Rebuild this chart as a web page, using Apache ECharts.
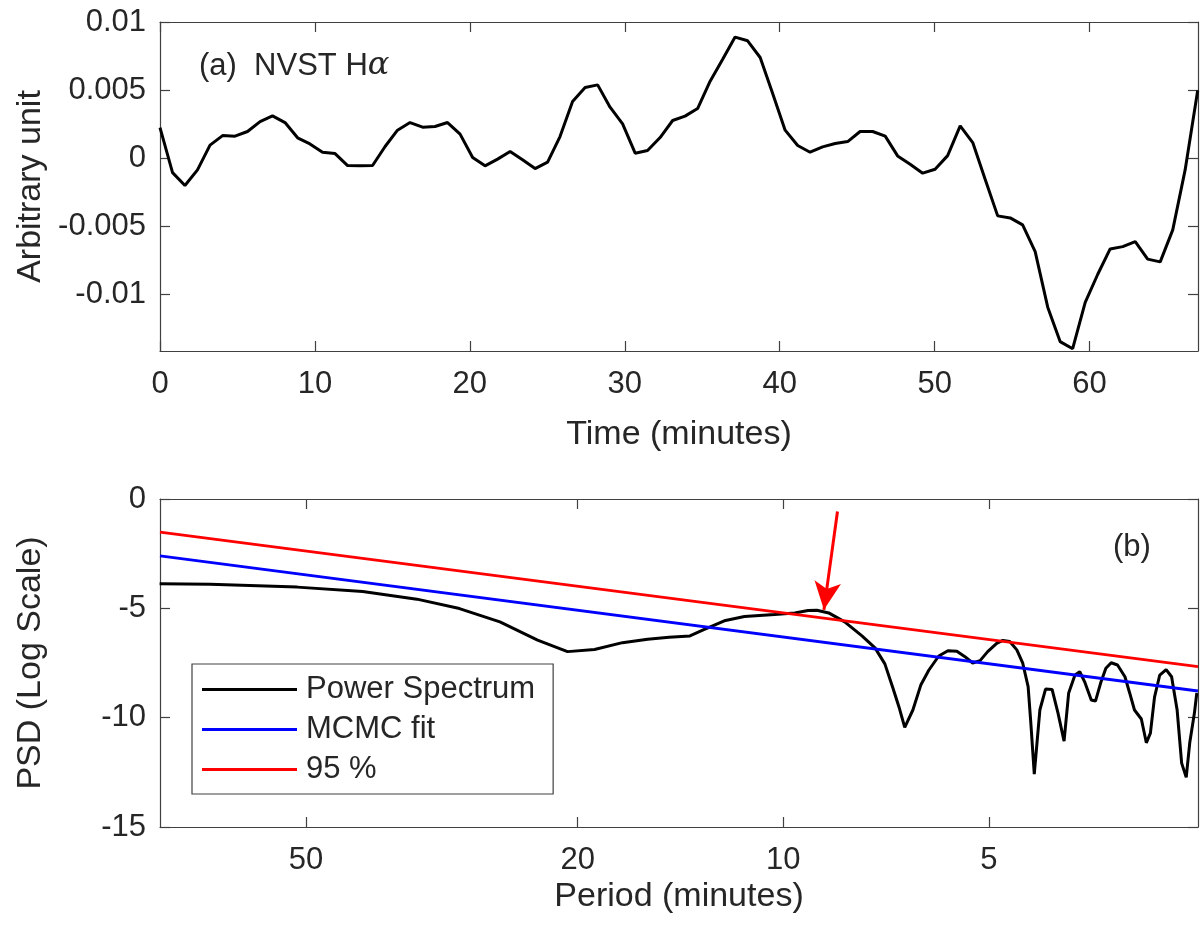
<!DOCTYPE html>
<html>
<head>
<meta charset="utf-8">
<script src="https://cdn.jsdelivr.net/npm/echarts@6/dist/echarts.min.js"></script>
<style>
html,body{margin:0;padding:0;background:#fff;}
#main{width:1200px;height:933px;}
</style>
</head>
<body>
<div id="main"></div>
<script>
// (a) NVST Halpha light curve
var timeMin = [0, 0.81, 1.61, 2.42, 3.23, 4.04, 4.84, 5.65, 6.46, 7.26,
  8.07, 8.88, 9.68, 10.49, 11.30, 12.11, 12.91, 13.72, 14.53, 15.33,
  16.14, 16.95, 17.75, 18.56, 19.37, 20.18, 20.98, 21.79, 22.60, 23.40,
  24.21, 25.02, 25.82, 26.63, 27.44, 28.25, 29.05, 29.86, 30.67, 31.47,
  32.28, 33.09, 33.89, 34.70, 35.51, 36.32, 37.12, 37.93, 38.74, 39.54,
  40.35, 41.16, 41.96, 42.77, 43.58, 44.39, 45.19, 46.00, 46.81, 47.61,
  48.42, 49.23, 50.03, 50.84, 51.65, 52.46, 53.26, 54.07, 54.88, 55.68,
  56.49, 57.30, 58.10, 58.91, 59.72, 60.53, 61.33, 62.14, 62.95, 63.75,
  64.56, 65.37, 66.17, 66.98];
var intensity = [0.00224, -0.00107, -0.00202, -0.00087, 0.00095, 0.00165, 0.00161, 0.00195, 0.00268, 0.00310,
  0.00261, 0.00149, 0.00104, 0.00043, 0.00033, -0.00055, -0.00057, -0.00055, 0.00085, 0.00205,
  0.00261, 0.00227, 0.00232, 0.00261, 0.00176, 0.00004, -0.00057, -0.00008, 0.00048, -0.00013,
  -0.00077, -0.00030, 0.00158, 0.00415, 0.00518, 0.00538, 0.00374, 0.00251, 0.00036, 0.00055,
  0.00151, 0.00276, 0.00308, 0.00364, 0.00565, 0.00727, 0.00889, 0.00862, 0.00739, 0.00477,
  0.00205, 0.00092, 0.00043, 0.00082, 0.00107, 0.00121, 0.00195, 0.00195, 0.00161, 0.00016,
  -0.00045, -0.00111, -0.00082, 0.00018, 0.00237, 0.00114, -0.00155, -0.00425, -0.00440, -0.00491,
  -0.00688, -0.01096, -0.01349, -0.01401, -0.01060, -0.00854, -0.00668, -0.00651, -0.00614, -0.00743,
  -0.00763, -0.00528, -0.00087, 0.00496];
var timeTicks = [0, 10, 20, 30, 40, 50, 60];
var unitTicks = [-0.01, -0.005, 0, 0.005, 0.01];

// (b) power spectrum vs period
var periodMin = [81.9, 69.1, 51.5, 41.3, 34.4, 29.8, 26.0, 22.9, 20.7, 18.9,
  17.2, 15.8, 14.7, 13.7, 13.1, 12.2, 11.4, 10.3, 9.62, 9.20,
  8.93, 8.58, 8.13, 7.67, 7.34, 7.10, 6.91, 6.77, 6.64, 6.46,
  6.29, 6.12, 5.92, 5.74, 5.57, 5.42, 5.28, 5.15, 5.02, 4.87,
  4.77, 4.66, 4.55, 4.46, 4.38, 4.34, 4.29, 4.21, 4.13, 4.04,
  3.96, 3.88, 3.82, 3.74, 3.68, 3.62, 3.54, 3.49, 3.43, 3.37,
  3.31, 3.24, 3.16, 3.11, 3.06, 2.99, 2.94, 2.90, 2.86, 2.81,
  2.75, 2.70, 2.65, 2.61, 2.57, 2.54, 2.50, 2.48];
var psdLog = [-3.88, -3.90, -4.03, -4.23, -4.58, -5.01, -5.62, -6.45, -6.98, -6.88,
  -6.57, -6.41, -6.32, -6.26, -5.99, -5.57, -5.37, -5.28, -5.21, -5.10,
  -5.09, -5.21, -5.62, -6.26, -6.81, -7.54, -8.64, -9.51, -10.44, -9.65,
  -8.51, -7.82, -7.18, -6.94, -6.96, -7.21, -7.50, -7.39, -6.98, -6.60,
  -6.47, -6.52, -6.90, -7.51, -8.58, -10.25, -12.58, -9.65, -8.69, -8.71,
  -9.79, -11.07, -8.87, -8.05, -7.90, -8.36, -9.19, -9.24, -8.42, -7.74,
  -7.49, -7.59, -8.13, -8.87, -9.65, -10.06, -11.15, -10.71, -9.06, -8.05,
  -7.80, -8.13, -9.65, -12.08, -12.73, -11.16, -9.79, -8.87];
var fitPeriod = [81.8, 2.47];
var mcmcFit = [-2.60, -8.78];
var conf95 = [-1.51, -7.67];
var periodTicks = [50, 20, 10, 5];
var psdTicks = [0, -5, -10, -15];
var arrowFrom = [8.33, -0.57];
var arrowTo = [8.72, -5.07];

var FONT = "'Liberation Sans', Arial, Helvetica, sans-serif";
var TXT = '#262626';
var AX = '#404040';

function zip(xs, ys) {
  return xs.map(function (x, i) { return [x, ys[i]]; });
}

function axisCommon(ticks, showLabel, margin) {
  return {
    axisLine: { show: true, onZero: false, lineStyle: { color: AX, width: 1.2 } },
    axisTick: { show: true, inside: true, length: 10, customValues: ticks, lineStyle: { color: AX, width: 1.2 } },
    axisLabel: { show: showLabel, customValues: ticks, color: TXT, fontSize: 31, fontFamily: FONT, margin: margin },
    splitLine: { show: false },
    minorTick: { show: false }
  };
}

function xAx(grid, type, min, max, ticks, pos, showLabel, extra) {
  return Object.assign({ type: type, gridIndex: grid, position: pos, min: min, max: max }, axisCommon(ticks, showLabel, 18), extra || {});
}
function yAx(grid, min, max, ticks, pos, showLabel, extra) {
  return Object.assign({ type: 'value', gridIndex: grid, position: pos, min: min, max: max }, axisCommon(ticks, showLabel, 14), extra || {});
}

var nameStyle = { color: TXT, fontSize: 34, fontFamily: FONT };

var chart = echarts.init(document.getElementById('main'));
var option = {
  backgroundColor: '#fff',
  animation: false,
  title: [{
    text: '{a|(a)  NVST H}{b|α}',
    left: 194, top: 45,
    textStyle: {
      rich: {
        a: { fontSize: 31, fontFamily: FONT, color: TXT, fontWeight: 'normal' },
        b: { fontSize: 32, fontFamily: "'DejaVu Serif', serif", fontStyle: 'italic', fontWeight: 'normal', color: TXT }
      }
    }
  }, {
    text: '(b)',
    left: 1108, top: 527,
    textStyle: { fontSize: 31, fontFamily: FONT, color: TXT, fontWeight: 'normal' }
  }],
  grid: [
    { left: 160, top: 22, width: 1038, height: 329, outerBoundsMode: 'none' },
    { left: 160, top: 499, width: 1038, height: 328, outerBoundsMode: 'none' }
  ],
  legend: {
    data: ['Power Spectrum', 'MCMC fit', '95 %'],
    orient: 'vertical',
    left: 192, top: 664,
    padding: [10, 18, 9, 10],
    itemGap: 9,
    icon: 'rect',
    itemWidth: 95,
    itemHeight: 3,
    borderColor: AX,
    borderWidth: 1.2,
    backgroundColor: '#fff',
    textStyle: { color: TXT, fontSize: 31, fontFamily: FONT, padding: [0, 0, 0, 4] }
  },
  xAxis: [
    xAx(0, 'value', 0, 67, timeTicks, 'bottom', true, { name: 'Time (minutes)', nameLocation: 'middle', nameGap: 67, nameTextStyle: nameStyle }),
    xAx(0, 'value', 0, 67, timeTicks, 'top', false),
    xAx(1, 'log', fitPeriod[1], fitPeriod[0], periodTicks, 'bottom', true, { inverse: true, name: 'Period (minutes)', nameLocation: 'middle', nameGap: 53, nameTextStyle: nameStyle }),
    xAx(1, 'log', fitPeriod[1], fitPeriod[0], periodTicks, 'top', false, { inverse: true })
  ],
  yAxis: [
    yAx(0, -0.01418, 0.01, unitTicks, 'left', true, { name: 'Arbitrary unit', nameLocation: 'middle', nameGap: 112, nameTextStyle: nameStyle }),
    yAx(0, -0.01418, 0.01, unitTicks, 'right', false),
    yAx(1, -15, 0, psdTicks, 'left', true, { name: 'PSD (Log Scale)', nameLocation: 'middle', nameGap: 112, nameTextStyle: nameStyle }),
    yAx(1, -15, 0, psdTicks, 'right', false)
  ],
  series: [{
    name: 'light curve',
    type: 'line',
    xAxisIndex: 0, yAxisIndex: 0,
    data: zip(timeMin, intensity),
    symbol: 'none',
    lineStyle: { color: '#000', width: 3 }
  }, {
    name: 'Power Spectrum',
    type: 'line',
    xAxisIndex: 2, yAxisIndex: 2,
    data: zip(periodMin, psdLog),
    symbol: 'none',
    color: '#000',
    lineStyle: { color: '#000', width: 3 }
  }, {
    name: 'MCMC fit',
    type: 'line',
    xAxisIndex: 2, yAxisIndex: 2,
    data: zip(fitPeriod, mcmcFit),
    symbol: 'none',
    color: '#0000ff',
    lineStyle: { color: '#0000ff', width: 2.8 }
  }, {
    name: '95 %',
    type: 'line',
    xAxisIndex: 2, yAxisIndex: 2,
    data: zip(fitPeriod, conf95),
    symbol: 'none',
    color: '#ff0000',
    lineStyle: { color: '#ff0000', width: 2.8 },
    markLine: {
      silent: true,
      symbol: ['none', 'arrow'],
      symbolSize: [20, 28],
      label: { show: false },
      lineStyle: { color: '#ff0000', width: 3, type: 'solid' },
      data: [[{ coord: arrowFrom }, { coord: arrowTo }]]
    }
  }]
};
chart.setOption(option);
</script>
</body>
</html>
